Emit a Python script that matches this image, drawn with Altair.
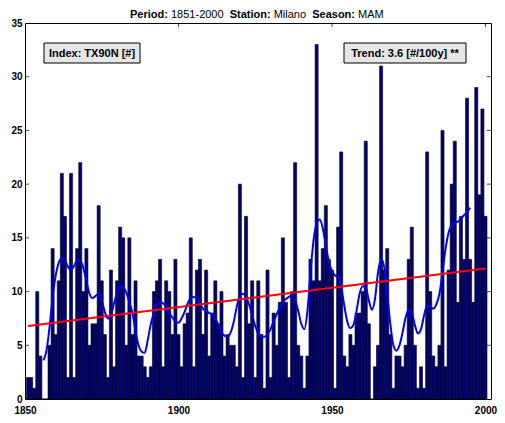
import altair as alt
import pandas as pd

# ---------------- data ----------------
years = list(range(1851, 2001))
counts = [
    2, 2, 1, 10, 4, 0, 0, 5, 14, 6,          # 1851-1860
    11, 21, 17, 2, 21, 2, 14, 22, 10, 14,    # 1861-1870
    5, 7, 7, 18, 11, 6, 2, 12, 3, 11,        # 1871-1880
    16, 15, 5, 15, 6, 11, 4, 4, 3, 2,        # 1881-1890
    3, 10, 11, 13, 3, 11, 10, 6, 13, 6,      # 1891-1900
    3, 7, 8, 15, 3, 12, 13, 6, 12, 4,        # 1901-1910
    8, 11, 7, 10, 4, 6, 5, 5, 3, 20,         # 1911-1920
    2, 17, 7, 11, 2, 11, 6, 1, 12, 2,        # 1921-1930
    8, 5, 9, 15, 9, 2, 10, 22, 5, 4,         # 1931-1940
    1, 4, 13, 11, 33, 11, 14, 18, 13, 12,    # 1941-1950
    1, 16, 23, 4, 3, 6, 5, 8, 8, 10,         # 1951-1960
    24, 7, 0, 3, 5, 31, 12, 14, 6, 1,        # 1961-1970
    4, 4, 3, 5, 13, 16, 5, 1, 3, 1,          # 1971-1980
    23, 10, 4, 3, 5, 25, 3, 12, 20, 24,      # 1981-1990
    9, 17, 13, 28, 13, 9, 29, 19, 27, 17,    # 1991-2000
]

smooth_years = list(range(1856, 1996))
smooth_vals = [
    3.6, 4.5, 6.7, 9.5, 11.5,                        # 1856-1860
    12.7, 13.1, 12.9, 12.3, 12.0, 12.4, 12.9, 12.9, 12.2, 11.0,  # 1861-1870
    9.8, 9.4, 9.6, 9.8, 9.2, 8.1, 7.5, 7.8, 8.9, 9.9,            # 1871-1880
    10.5, 10.4, 9.9, 9.0, 8.0, 6.3, 5.0, 4.4, 4.3, 5.5,          # 1881-1890
    7.0, 8.0, 8.8, 9.0, 8.9, 8.6, 8.0, 7.6, 7.2, 7.1,            # 1891-1900
    7.5, 8.1, 8.9, 9.4, 9.5, 9.3, 8.9, 8.4, 8.2, 8.0,            # 1901-1910
    7.9, 7.5, 6.9, 6.2, 5.9, 5.8, 6.2, 7.2, 8.6, 9.6,            # 1911-1920
    9.8, 9.5, 8.8, 7.8, 6.8, 6.1, 5.8, 5.8, 6.0, 6.5,            # 1921-1930
    7.2, 7.9, 8.5, 9.0, 9.3, 9.5, 9.7, 9.2, 8.2, 7.0,            # 1931-1940
    6.5, 8.2, 11.8, 14.8, 16.3, 16.7, 15.9, 14.3, 12.8, 11.9,    # 1941-1950
    11.5, 11.3, 10.4, 8.7, 7.2, 6.6, 6.9, 8.2, 9.8, 10.5,        # 1951-1960
    10.4, 9.2, 8.3, 9.3, 11.8, 13.0, 12.3, 9.8, 7.0, 5.0,        # 1961-1970
    4.5, 5.0, 6.2, 7.6, 8.3, 8.0, 6.9, 6.1, 6.5, 7.8,            # 1971-1980
    8.7, 8.6, 8.4, 8.8, 9.8, 11.8, 14.0, 15.5, 16.2, 16.4,       # 1981-1990
    16.5, 16.8, 17.1, 17.4, 17.8,                                # 1991-1995
]

trend_years = [1851, 2000]
trend_vals = [6.8, 12.15]

x_ticks = [1850, 1900, 1950, 2000]
y_ticks = [0, 5, 10, 15, 20, 25, 30, 35]
y_inner_ticks = [5, 10, 15, 20, 25, 30]

title_parts = ["Period:", "1851-2000", "Station:", "Milano", "Season:", "MAM"]
title_bold = [True, False, True, False, True, False]
index_label = "Index: TX90N [#]"
trend_label = "Trend: 3.6 [#/100y] **"

# ---------------- layout ----------------
W, H = 466, 376
FONT = "Liberation Sans"

xscale = alt.Scale(domain=[1850, 2001.8], nice=False, zero=False)
yscale = alt.Scale(domain=[0, 35], nice=False, zero=True)

bars_df = pd.DataFrame({"year": years, "count": counts})
smooth_df = pd.DataFrame({"year": smooth_years, "value": smooth_vals})
trend_df = pd.DataFrame({"year": trend_years, "value": trend_vals})

x_axis = alt.Axis(values=x_ticks, format="d", title=None, grid=False, domain=False,
                  tickSize=0, labelFont=FONT, labelFontSize=10, labelFontWeight="bold",
                  labelColor="black", labelPadding=6, labelFlush=False)
y_axis = alt.Axis(values=y_ticks, title=None, grid=False, domain=False,
                  tickSize=0, labelFont=FONT, labelFontSize=10, labelFontWeight="bold",
                  labelColor="black", labelPadding=3)

X = lambda f: alt.X(f, scale=xscale, axis=x_axis)
Y = lambda f: alt.Y(f, scale=yscale, axis=y_axis)

# inward ticks
xt_df = pd.DataFrame({"t": x_ticks[1:]})
yt_df = pd.DataFrame({"t": y_inner_ticks})
top_ticks = alt.Chart(xt_df).mark_tick(orient="vertical", size=4, thickness=1, color="black").encode(
    x=X("t:Q"), y=alt.value(2))
left_ticks = alt.Chart(yt_df).mark_tick(orient="horizontal", size=4, thickness=1, color="black").encode(
    y=Y("t:Q"), x=alt.value(2))
right_ticks = alt.Chart(yt_df).mark_tick(orient="horizontal", size=4, thickness=1, color="black").encode(
    y=Y("t:Q"), x=alt.value(W - 2))

bars = alt.Chart(bars_df).transform_calculate(
    x0="datum.year - 0.5", x1="datum.year + 0.5"
).mark_rect(fill="#000078", stroke="black", strokeWidth=0.6).encode(
    x=X("x0:Q"),
    x2="x1:Q",
    y=Y("count:Q"),
    y2=alt.datum(0),
)

smooth = alt.Chart(smooth_df).mark_line(color="#0000ff", strokeWidth=2, interpolate="monotone").encode(
    x=X("year:Q"), y=Y("value:Q"))

trend = alt.Chart(trend_df).mark_line(color="#ff0000", strokeWidth=2).encode(
    x=X("year:Q"), y=Y("value:Q"))

# annotation boxes
def box(x1, x2, label, cx):
    d = pd.DataFrame({"label": [label]})
    r = alt.Chart(d).mark_rect(fill="#e6e6e6", stroke="black", strokeWidth=1).encode(
        x=alt.value(x1), x2=alt.value(x2), y=alt.value(20), y2=alt.value(40))
    t = alt.Chart(d).mark_text(font=FONT, fontSize=11, fontWeight="bold", color="black",
                               align="center", baseline="middle").encode(
        x=alt.value(cx), y=alt.value(30.5), text="label:N")
    return r + t

box1 = box(19, 115, index_label, 67)
box2 = box(319, 441, trend_label, 380)

# title made of bold / regular pieces
title_x = [105, 146, 204.7, 248.7, 287.2, 333.1]
title_layers = []
for txt, bold, px in zip(title_parts, title_bold, title_x):
    d = pd.DataFrame({"s": [txt]})
    title_layers.append(
        alt.Chart(d).mark_text(font=FONT, fontSize=11, fontWeight="bold" if bold else "normal",
                               color="black", align="left", baseline="alphabetic").encode(
            x=alt.value(px), y=alt.value(-5.5), text="s:N"))

chart = alt.layer(
    bars, top_ticks, left_ticks, right_ticks,
    smooth, trend, box1, box2, *title_layers
).properties(
    width=W, height=H,
    padding={"left": 17, "top": 15, "right": 6, "bottom": 16},
    autosize=alt.AutoSizeParams(type="none"),
    background="white",
).configure_view(stroke="black", strokeWidth=1)

chart.save("out.html", embed_options={"renderer": "svg", "actions": False})
